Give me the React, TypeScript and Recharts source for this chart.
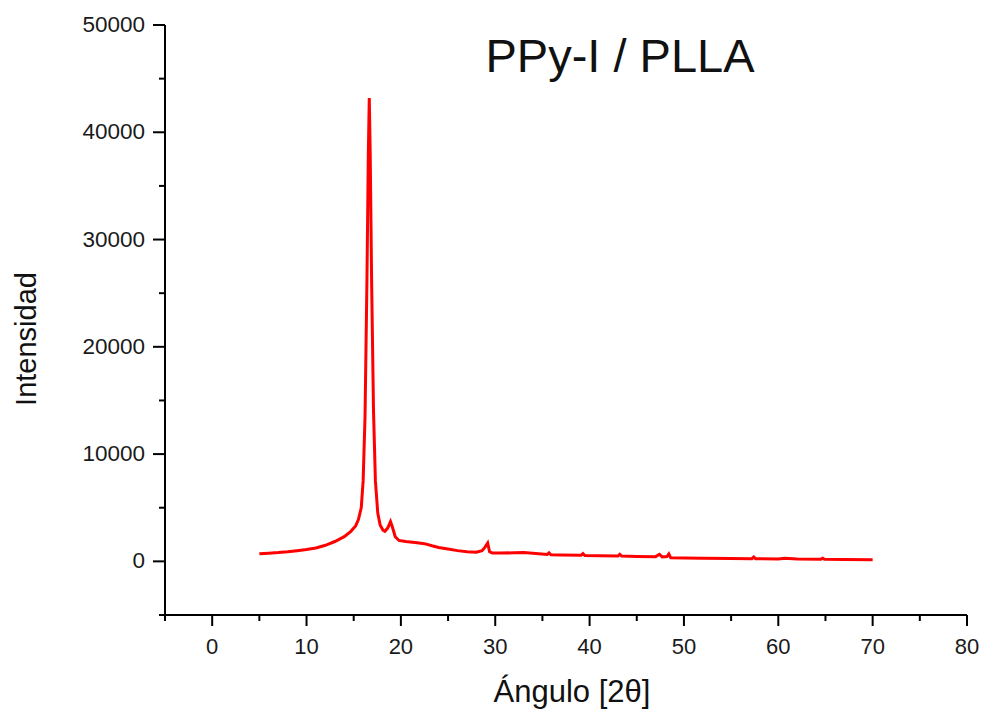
import { LineChart, Line, XAxis, YAxis } from 'recharts';

// XRD pattern, PPy-I / PLLA
const angles = [
  5, 6, 7, 8, 9, 10, 11, 12, 13, 14, 14.7, 15.2, 15.5, 15.8, 16.0, 16.2, 16.4, 16.55, 16.65,
  16.75, 16.9, 17.1, 17.3, 17.55, 17.8, 18.1, 18.3, 18.6, 18.9, 19.1, 19.4, 19.8, 20.5, 21.5,
  22.5, 23.3, 24, 25, 26, 27, 28, 28.6, 28.9, 29.2, 29.4, 29.7, 30.5, 32, 33, 34, 35.5, 35.7,
  35.9, 37, 39.1, 39.3, 39.5, 41, 43.0, 43.2, 43.4, 45, 47.0, 47.4, 47.7, 48.2, 48.4, 48.6, 50,
  52, 55, 57.2, 57.4, 57.6, 60, 60.7, 62, 64.5, 64.7, 64.9, 67, 70,
];
const intensity = [
  700, 760, 820, 900, 1000, 1100, 1250, 1500, 1850, 2300, 2800, 3300, 3900, 5000, 7500, 13500,
  26000, 38000, 43200, 38000, 26000, 14000, 7500, 4500, 3400, 2900, 2800, 3100, 3700, 3200,
  2300, 1950, 1850, 1750, 1650, 1450, 1300, 1150, 1000, 900, 850, 1000, 1300, 1700, 900, 780,
  770, 800, 820, 750, 640, 800, 620, 600, 560, 720, 550, 520, 500, 660, 490, 460, 440, 660, 420,
  440, 690, 330, 310, 300, 270, 250, 400, 250, 230, 300, 220, 200, 300, 195, 180, 160,
];

const xTicks = [-5, 0, 5, 10, 15, 20, 25, 30, 35, 40, 45, 50, 55, 60, 65, 70, 75, 80];
const yTicks = [
  -5000, 0, 5000, 10000, 15000, 20000, 25000, 30000, 35000, 40000, 45000, 50000,
];

const data = angles.map((a, i) => ({ angle: a, intensity: intensity[i] }));

const FONT = "Arial, 'Liberation Sans', sans-serif";

function XTick({ x, y, payload }: any) {
  const major = payload.value % 10 === 0;
  return (
    <g>
      <line x1={x} y1={y} x2={x} y2={y + (major ? 11 : 6)} stroke="#000" strokeWidth={2} />
      {major && (
        <text x={x} y={y + 39} textAnchor="middle" fontSize={22} fontFamily={FONT} fill="#1a1a1a">
          {payload.value}
        </text>
      )}
    </g>
  );
}

function YTick({ x, y, payload }: any) {
  const major = payload.value % 10000 === 0;
  return (
    <g>
      <line x1={x} y1={y} x2={x - (major ? 12 : 6)} y2={y} stroke="#000" strokeWidth={2} />
      {major && (
        <text x={x - 20} y={y + 7} textAnchor="end" fontSize={22.5} fontFamily={FONT} fill="#1a1a1a">
          {payload.value}
        </text>
      )}
    </g>
  );
}

export default function App() {
  return (
    <div style={{ position: 'absolute', left: 0, top: 0, width: 985, height: 711, background: '#fff' }}>
      <LineChart
        width={985}
        height={711}
        data={data}
        margin={{ top: 25, right: 18, bottom: 36, left: 0 }}
      >
        <XAxis
          dataKey="angle"
          type="number"
          domain={[-5, 80]}
          ticks={xTicks}
          interval={0}
          height={60}
          tickSize={0}
          tickMargin={0}
          tickLine={false}
          tick={<XTick />}
          axisLine={{ stroke: '#000', strokeWidth: 2 }}
          allowDataOverflow
        />
        <YAxis
          type="number"
          domain={[-5000, 50000]}
          ticks={yTicks}
          interval={0}
          width={165}
          tickSize={0}
          tickMargin={0}
          tickLine={false}
          tick={<YTick />}
          axisLine={{ stroke: '#000', strokeWidth: 2 }}
          allowDataOverflow
        />
        <Line
          dataKey="intensity"
          type="linear"
          stroke="#ff0000"
          strokeWidth={3}
          dot={false}
          isAnimationActive={false}
        />
        <text x={620} y={72} textAnchor="middle" fontSize={47} fontFamily={FONT} fill="#111">
          PPy-I / PLLA
        </text>
        <text x={572} y={702} textAnchor="middle" fontSize={31} fontFamily={FONT} fill="#111">
          Ángulo [2θ]
        </text>
        <text
          x={36}
          y={339}
          textAnchor="middle"
          fontSize={29}
          fontFamily={FONT}
          fill="#111"
          transform="rotate(-90 36 339)"
        >
          Intensidad
        </text>
      </LineChart>
    </div>
  );
}
